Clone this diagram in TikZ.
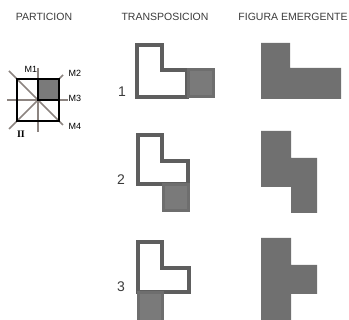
\documentclass[tikz,border=0pt]{standalone}
\usepackage{fontspec}
\setmainfont{Liberation Sans}
\newfontfamily\serifb{Liberation Serif}
\definecolor{txt}{HTML}{3A3A3A}
\definecolor{outl}{HTML}{5E5E5E}
\definecolor{cellgrey}{HTML}{7A7A7A}
\definecolor{fig}{HTML}{707070}
\definecolor{mirror}{HTML}{8C8480}
\tikzset{
  head/.style={font=\fontsize{10.5}{12}\selectfont, text=txt, inner sep=0pt},
  num/.style={font=\fontsize{14}{16}\selectfont, text=txt, inner sep=0pt},
  mlab/.style={font=\fontsize{9}{10}\selectfont, text=black, inner sep=0pt},
  lshape/.style={draw=outl, line width=4pt, fill=white, line join=miter},
  cellbox/.style={draw=outl!90, line width=3pt, fill=cellgrey},
  emerg/.style={fill=fig, draw=none},
  mline/.style={draw=mirror, line width=1.5pt},
}
\begin{document}
\begin{tikzpicture}[x=1pt,y=-1pt]
\useasboundingbox (0,0) rectangle (349,320);
% headings
\node[head] (h1) at (44,17) {PARTICION};
\node[head] (h2) at (165,17) {TRANSPOSICION};
\node[head] (h3) at (293,17) {FIGURA EMERGENTE};
% partition
\draw[mline] (38,68) -- (38,132);
\draw[mline] (7,100) -- (68,100);
\draw[mline] (9,129) -- (63,75);
\draw[mline] (9,71) -- (63,125);
\fill[fill=cellgrey] (38,79) rectangle (59,100);
\draw[black, line width=2pt] (17,79) rectangle (59,121);
\draw[black, line width=2pt] (38,79) -- (38,100) -- (59,100);
\node[mlab] (m1) at (31,69) {M1};
\node[mlab] (m2) at (75,73) {M2};
\node[mlab] (m3) at (75,98) {M3};
\node[mlab] (m4) at (75,126) {M4};
\node[inner sep=0pt, font=\serifb\bfseries\fontsize{10}{12}\selectfont] (ii) at (21,134) {II};
% transposition 1
\draw[lshape] (137,45) -- (162,45) -- (162,70) -- (187,70) -- (187,97) -- (137,97) -- cycle;
\draw[cellbox] (188,70) rectangle (213,97);
\node[num] (n1) at (122,92) {1};
% transposition 2
\draw[lshape] (138,135) -- (162,135) -- (162,161) -- (188,161) -- (188,184) -- (138,184) -- cycle;
\draw[cellbox] (163,185) rectangle (188,211);
\node[num] (n2) at (121,180) {2};
% transposition 3
\draw[lshape] (138,242) -- (162,242) -- (162,268) -- (189,268) -- (189,292) -- (138,292) -- cycle;
\draw[cellbox] (138,293) rectangle (162,322);
\node[num] (n3) at (121,287) {3};
% emergent figures
\fill[emerg] (261,43) -- (290,43) -- (290,68) -- (341,68) -- (341,99) -- (261,99) -- cycle;
\fill[emerg] (261,131) -- (291,131) -- (291,158) -- (317,158) -- (317,213) -- (291,213) -- (291,187) -- (261,187) -- cycle;
\fill[emerg] (261,238) -- (291,238) -- (291,265) -- (317,265) -- (317,294) -- (291,294) -- (291,320) -- (261,320) -- cycle;
\end{tikzpicture}
\end{document}
